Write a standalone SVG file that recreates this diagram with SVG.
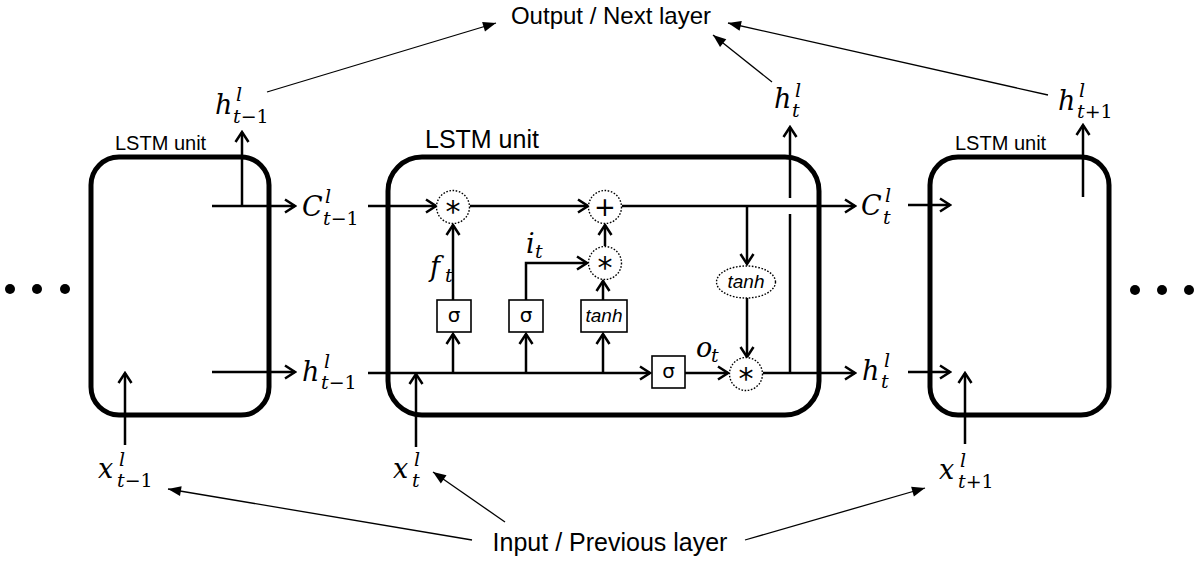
<svg xmlns="http://www.w3.org/2000/svg" width="1200" height="562" viewBox="0 0 1200 562">
<style>
.unit{fill:none;stroke:#000;stroke-width:5}
.ln{fill:none;stroke:#000;stroke-width:2.5}
.ann{fill:none;stroke:#000;stroke-width:1.3}
.op{fill:#fff;stroke:#000;stroke-width:1.4;stroke-dasharray:1.6 1.6}
.gate{fill:#fff;stroke:#000;stroke-width:1.6}
.sans{font-family:"Liberation Sans",Arial,sans-serif;fill:#000}
.m{font-family:"DejaVu Serif",serif;font-style:italic;font-size:27px;fill:#000}
.s{font-size:19px}
.up{font-style:normal}
.sym{font-family:"DejaVu Sans",sans-serif;fill:#000;text-anchor:middle}
.ti{font-family:"Liberation Sans",Arial,sans-serif;font-style:italic;font-size:19px;text-anchor:middle;fill:#000}
</style>
<defs>
<marker id="ah" markerUnits="userSpaceOnUse" viewBox="-13 -8 15 16" refX="0" refY="0" markerWidth="15" markerHeight="16" orient="auto">
<path d="M-10,-6.5 L0,0 L-10,6.5" fill="none" stroke="#000" stroke-width="2.5"/>
</marker>
<marker id="fa" markerUnits="userSpaceOnUse" viewBox="-14 -6 15 12" refX="0" refY="0" markerWidth="15" markerHeight="12" orient="auto">
<path d="M-13,-5 L0,0 L-13,5 z" fill="#000"/>
</marker>
</defs>

<g id="unit-left">
<rect class="unit" x="91" y="157" width="178" height="258" rx="28"/>
<text class="sans" x="115" y="150" font-size="20">LSTM unit</text>
</g>
<g id="unit-main">
<rect class="unit" x="388" y="157" width="431" height="258" rx="34"/>
<text class="sans" x="425" y="148" font-size="25">LSTM unit</text>
</g>
<g id="unit-right">
<rect class="unit" x="930" y="157" width="179" height="258" rx="28"/>
<text class="sans" x="955" y="150" font-size="20">LSTM unit</text>
</g>

<g id="dots-left"><circle cx="10" cy="289" r="5"/><circle cx="37" cy="289" r="5"/><circle cx="65" cy="289" r="5"/></g>
<g id="dots-right"><circle cx="1135" cy="290" r="5"/><circle cx="1162" cy="290" r="5"/><circle cx="1189" cy="290" r="5"/></g>

<g id="connectors">
<line class="ln" x1="212" y1="206" x2="295" y2="206" marker-end="url(#ah)"/>
<line class="ln" x1="242" y1="206" x2="242" y2="132" marker-end="url(#ah)"/>
<line class="ln" x1="212" y1="372" x2="295" y2="372" marker-end="url(#ah)"/>
<line class="ln" x1="125" y1="445" x2="125" y2="373" marker-end="url(#ah)"/>
<line class="ln" x1="368" y1="206" x2="436" y2="206" marker-end="url(#ah)"/>
<line class="ln" x1="470" y1="206" x2="588" y2="206" marker-end="url(#ah)"/>
<line class="ln" x1="622" y1="206" x2="855" y2="206" marker-end="url(#ah)"/>
<line class="ln" x1="747" y1="206" x2="747" y2="264" marker-end="url(#ah)"/>
<line class="ln" x1="747" y1="298" x2="747" y2="357" marker-end="url(#ah)"/>
<line class="ln" x1="368" y1="373" x2="650" y2="373" marker-end="url(#ah)"/>
<line class="ln" x1="453" y1="373" x2="453" y2="334" marker-end="url(#ah)"/>
<line class="ln" x1="526" y1="373" x2="526" y2="334" marker-end="url(#ah)"/>
<line class="ln" x1="603" y1="373" x2="603" y2="334" marker-end="url(#ah)"/>
<line class="ln" x1="453" y1="300" x2="453" y2="225" marker-end="url(#ah)"/>
<polyline class="ln" points="526,300 526,263 587,263" marker-end="url(#ah)"/>
<line class="ln" x1="603" y1="300" x2="603" y2="281" marker-end="url(#ah)"/>
<line class="ln" x1="605" y1="246" x2="605" y2="225" marker-end="url(#ah)"/>
<line class="ln" x1="685" y1="373" x2="728" y2="373" marker-end="url(#ah)"/>
<line class="ln" x1="763" y1="373" x2="855" y2="373" marker-end="url(#ah)"/>
<line class="ln" x1="790" y1="373" x2="790" y2="214"/>
<line class="ln" x1="790" y1="198" x2="790" y2="127" marker-end="url(#ah)"/>
<line class="ln" x1="416" y1="447" x2="416" y2="374" marker-end="url(#ah)"/>
<line class="ln" x1="908" y1="205" x2="950" y2="205" marker-end="url(#ah)"/>
<line class="ln" x1="908" y1="372" x2="950" y2="372" marker-end="url(#ah)"/>
<line class="ln" x1="1083" y1="197" x2="1083" y2="125" marker-end="url(#ah)"/>
<line class="ln" x1="965" y1="444" x2="965" y2="373" marker-end="url(#ah)"/>
<line class="ann" x1="267" y1="92" x2="496" y2="23" marker-end="url(#fa)"/>
<line class="ann" x1="772" y1="82" x2="713" y2="35" marker-end="url(#fa)"/>
<line class="ann" x1="1048" y1="95" x2="728" y2="23" marker-end="url(#fa)"/>
<line class="ann" x1="472" y1="540" x2="168" y2="489" marker-end="url(#fa)"/>
<line class="ann" x1="505" y1="522" x2="433" y2="472" marker-end="url(#fa)"/>
<line class="ann" x1="745" y1="540" x2="925" y2="488" marker-end="url(#fa)"/>
</g>

<g id="op-mul-f"><circle class="op" cx="453" cy="207" r="16.5"/><text class="sym" x="453" y="222" font-size="30">*</text></g>
<g id="op-add"><circle class="op" cx="605" cy="207" r="16.5"/><text class="sym" x="605" y="216" font-size="26">+</text></g>
<g id="op-mul-i"><circle class="op" cx="605" cy="263" r="16.5"/><text class="sym" x="605" y="278" font-size="30">*</text></g>
<g id="op-tanh"><ellipse class="op" cx="746" cy="282" rx="29.5" ry="16"/><text class="ti" x="746" y="288">tanh</text></g>
<g id="op-mul-o"><circle class="op" cx="746" cy="374" r="16.5"/><text class="sym" x="746" y="389" font-size="30">*</text></g>

<g id="gate-f"><rect class="gate" x="437" y="300" width="34" height="32"/><text class="sym" x="454" y="322" font-size="20">σ</text></g>
<g id="gate-i"><rect class="gate" x="509" y="300" width="34" height="32"/><text class="sym" x="526" y="322" font-size="20">σ</text></g>
<g id="gate-tanh"><rect class="gate" x="581" y="300" width="46" height="32"/><text class="ti" x="604" y="322">tanh</text></g>
<g id="gate-o"><rect class="gate" x="652" y="356" width="33" height="32"/><text class="sym" x="668.5" y="378" font-size="20">σ</text></g>

<g id="labels">
<text class="m" x="430" y="276" font-size="25">f<tspan class="s" x="445" y="282">t</tspan></text>
<text class="m" x="526" y="253" font-size="25">i<tspan class="s" x="535" y="258">t</tspan></text>
<text class="m" x="696" y="357" font-size="25">o<tspan class="s" x="711" y="362">t</tspan></text>

<text class="m" x="215" y="114">h<tspan class="s" x="236" y="101">l</tspan><tspan class="s" x="233" y="123">t<tspan class="up">−1</tspan></tspan></text>
<text class="m" x="302" y="216">C<tspan class="s" x="325" y="203">l</tspan><tspan class="s" x="323" y="225">t<tspan class="up">−1</tspan></tspan></text>
<text class="m" x="302" y="381">h<tspan class="s" x="324" y="368">l</tspan><tspan class="s" x="321" y="389">t<tspan class="up">−1</tspan></tspan></text>

<text class="m" x="774" y="108">h<tspan class="s" x="795" y="97">l</tspan><tspan class="s" x="792" y="117">t</tspan></text>
<text class="m" x="861" y="215">C<tspan class="s" x="885" y="202">l</tspan><tspan class="s" x="883" y="224">t</tspan></text>
<text class="m" x="862" y="380">h<tspan class="s" x="884" y="367">l</tspan><tspan class="s" x="881" y="388">t</tspan></text>
<text class="m" x="1058" y="110">h<tspan class="s" x="1079" y="97">l</tspan><tspan class="s" x="1077" y="118">t<tspan class="up">+1</tspan></tspan></text>

<text class="m" x="98" y="478">x<tspan class="s" x="119" y="466">l</tspan><tspan class="s" x="117" y="487">t<tspan class="up">−1</tspan></tspan></text>
<text class="m" x="393" y="478">x<tspan class="s" x="414" y="466">l</tspan><tspan class="s" x="412" y="487">t</tspan></text>
<text class="m" x="939" y="479">x<tspan class="s" x="960" y="467">l</tspan><tspan class="s" x="958" y="488">t<tspan class="up">+1</tspan></tspan></text>

<text class="sans" x="611" y="24" font-size="24" text-anchor="middle">Output / Next layer</text>
<text class="sans" x="610" y="551" font-size="25" text-anchor="middle">Input / Previous layer</text>
</g>
</svg>
